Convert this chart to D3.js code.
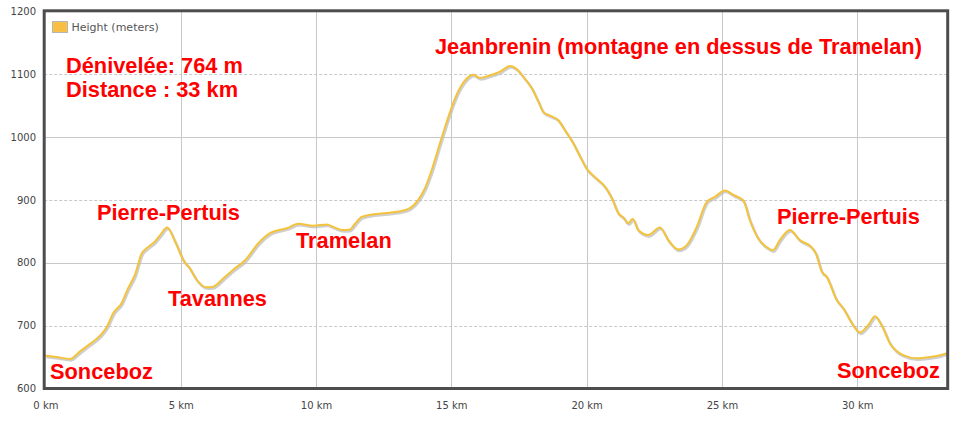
<!DOCTYPE html>
<html><head><meta charset="utf-8">
<script src="https://cdn.jsdelivr.net/npm/d3@7"></script>
<style>body{margin:0;background:#fff;}svg{display:block;}</style>
</head><body>
<svg id="chart" width="961" height="421"></svg>
<script>
const distanceKm = [0,0.42,0.91,1.28,1.65,2.02,2.27,2.51,2.82,3.03,3.31,3.56,3.74,4.05,4.24,4.50,4.79,5.10,5.34,5.59,5.96,6.20,6.57,6.94,7.38,7.87,8.30,8.92,9.35,9.90,10.40,10.64,11.01,11.26,11.44,11.69,12.12,12.61,12.98,13.47,13.78,14.03,14.28,14.58,14.83,15.07,15.32,15.57,15.81,16.06,16.43,16.80,17.17,17.42,17.66,17.97,18.22,18.40,18.65,18.95,19.20,19.51,19.76,20.00,20.37,20.68,20.93,21.17,21.36,21.54,21.70,21.91,22.28,22.71,23.02,23.39,23.70,24.07,24.44,24.75,25.11,25.42,25.79,26.03,26.34,26.65,26.89,27.14,27.51,27.88,28.31,28.47,28.69,28.87,29.24,29.48,29.85,30.10,30.41,30.66,30.90,31.21,31.70,32.19,32.69,33.06,33.32];
const heightM = [652,650,647,659,671,684,698,720,736,757,781,815,823,834,844,856,834,804,791,773,761,762,775,789,804,831,847,855,862,859,861,857,852,853,862,873,877,879,881,887,900,919,948,990,1024,1054,1078,1093,1099,1094,1098,1104,1113,1108,1096,1078,1056,1040,1034,1027,1011,990,969,950,934,921,903,879,872,863,870,852,844,856,836,821,828,857,897,905,915,908,899,868,839,825,820,836,852,836,825,815,786,778,741,728,701,689,701,715,701,672,653,648,650,653,656];
const yTicks = [600,700,800,900,1000,1100,1200];
const xTicks = [0,5,10,15,20,25,30];
const seriesName = "Height (meters)";
const infoLines = ["Dénivelée: 764 m", "Distance : 33 km"];
const annotations = [
  {text:"Jeanbrenin (montagne en dessus de Tramelan)", x:435, y:54},
  {text:"Pierre-Pertuis", x:97, y:220},
  {text:"Tavannes", x:168, y:306},
  {text:"Tramelan", x:296, y:248},
  {text:"Pierre-Pertuis", x:777, y:224},
  {text:"Sonceboz", x:50, y:379},
  {text:"Sonceboz", x:837, y:378}
];

const svg = d3.select("#chart");
const L = 44.2, R = 947.7, T = 10.8, B = 388.5;
const x = d3.scaleLinear().domain([0, 33.34]).range([45.4, 45.4 + 33.34*27.06]);
const y = d3.scaleLinear().domain([600, 1200]).range([B, 11.3]);

// grid
const g = svg.append("g");
g.selectAll(".vg").data(xTicks.filter(d=>d>0)).enter().append("line")
  .attr("x1", d=>Math.round(x(d))+0.5).attr("x2", d=>Math.round(x(d))+0.5)
  .attr("y1", T).attr("y2", B).attr("stroke", "#c8c8c8").attr("stroke-width", 1);
g.selectAll(".hg").data(yTicks.filter(d=>d>600 && d<1200)).enter().append("line")
  .attr("x1", L).attr("x2", R)
  .attr("y1", d=>Math.round(y(d))+0.5).attr("y2", d=>Math.round(y(d))+0.5)
  .attr("stroke", "#c8c8c8").attr("stroke-width", 1)
  .attr("stroke-dasharray", d=> (d/100)%2===1 ? "3,2" : null);

// axes labels
const yAxis = d3.axisLeft(y).tickValues(yTicks).tickSize(0).tickPadding(0).tickFormat(d3.format("d"));
const ya = svg.append("g").attr("transform", "translate(36,0)").call(yAxis);
ya.select(".domain").remove();
ya.selectAll("text").attr("font-family","DejaVu Sans").attr("font-size","10px").attr("fill","#444");

const xAxis = d3.axisBottom(x).tickValues(xTicks).tickSize(0).tickPadding(0).tickFormat(d=>d+" km");
const xa = svg.append("g").attr("transform", "translate(0,402)").call(xAxis);
xa.select(".domain").remove();
xa.selectAll("text").attr("font-family","DejaVu Sans").attr("font-size","10px").attr("fill","#444");

// line
const data = distanceKm.map((d,i)=>({k:d, h:heightM[i]}));
const line = d3.line().x(d=>x(d.k)).y(d=>y(d.h)).curve(d3.curveMonotoneX);
svg.append("clipPath").attr("id","pc").append("rect")
  .attr("x", L).attr("y", T).attr("width", R-L).attr("height", B-T);
const lg = svg.append("g").attr("clip-path","url(#pc)");
lg.append("path").datum(data).attr("d", line).attr("fill","none")
  .attr("stroke","#bbbbbb").attr("stroke-width",2.5).attr("opacity",0.7)
  .attr("transform","translate(1,1.5)");
lg.append("path").datum(data).attr("d", line).attr("fill","none")
  .attr("stroke","#f4c33c").attr("stroke-width",2);

// border
svg.append("rect").attr("x", L).attr("y", T).attr("width", R-L).attr("height", B-T)
  .attr("fill","none").attr("stroke","#4d4d4d").attr("stroke-width",3);

// legend
svg.append("rect").attr("x",52.5).attr("y",21.5).attr("width",15).attr("height",11)
  .attr("fill","#f7c54e").attr("stroke","#b5b5b5").attr("stroke-width",1);
svg.append("rect").attr("x",54).attr("y",23).attr("width",12).attr("height",8)
  .attr("fill","#f6b93a").attr("opacity",0.6);
svg.append("text").attr("x",71.5).attr("y",31).text(seriesName)
  .attr("font-family","DejaVu Sans").attr("font-size","11px").attr("fill","#555");

// annotations
const font = "Liberation Sans, Arial, sans-serif";
svg.selectAll(".info").data(infoLines).enter().append("text")
  .attr("x",66).attr("y",(d,i)=> i===0 ? 72.8 : 97.4).text(d=>d)
  .attr("font-family",font).attr("font-weight","bold")
  .attr("font-size","21.8px").attr("fill","#ff0000");

svg.selectAll(".ann").data(annotations).enter().append("text")
  .attr("x", d=>d.x).attr("y", d=>d.y).text(d=>d.text)
  .attr("font-family",font).attr("font-weight","bold")
  .attr("font-size","21.8px").attr("fill","#ff0000");
</script>
</body></html>
